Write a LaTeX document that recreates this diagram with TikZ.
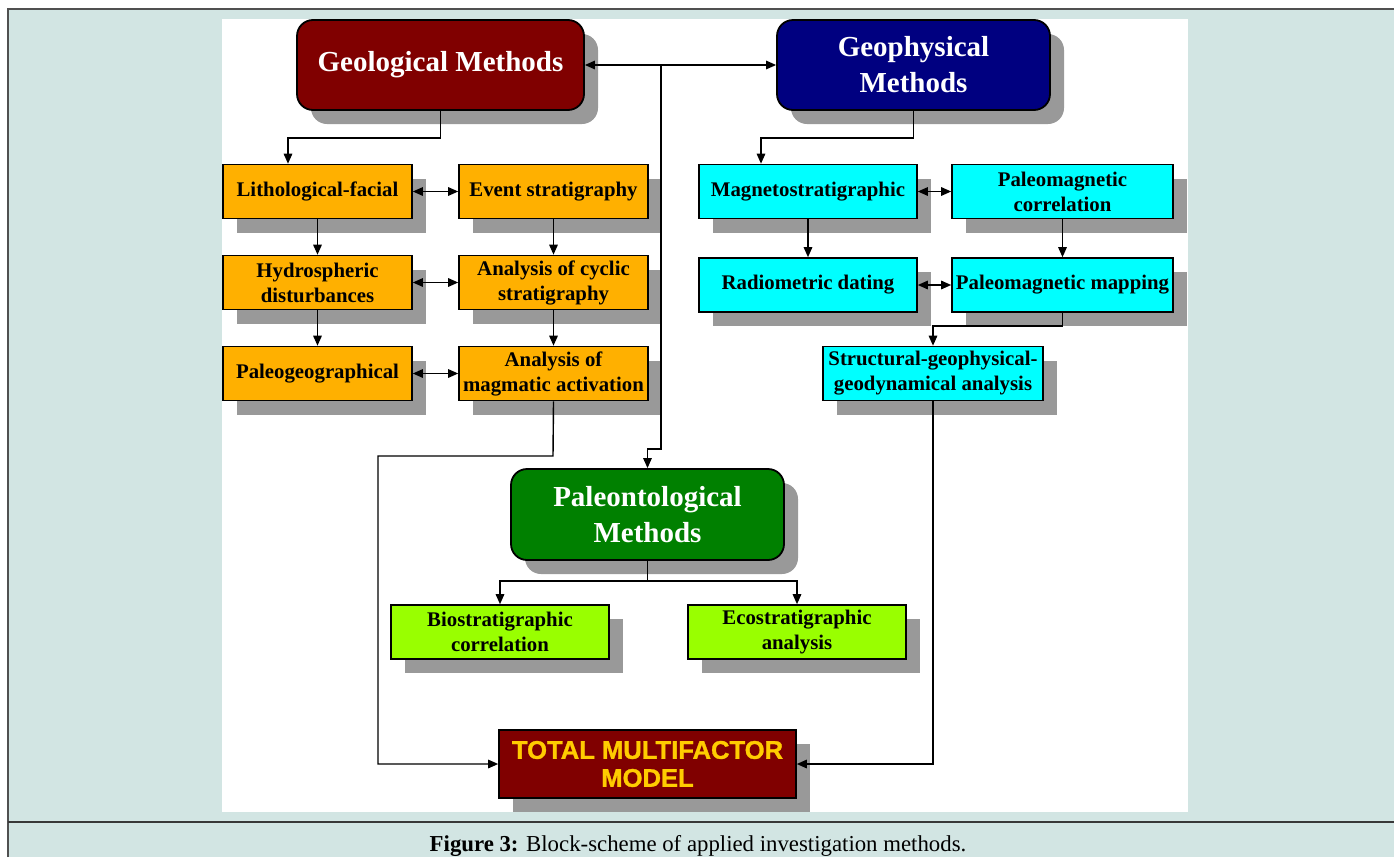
\documentclass[tikz,border=0pt]{standalone}
\usepackage{fontspec}
\setmainfont{Liberation Serif}
\newfontfamily\sansbold[FakeBold=1.2]{Liberation Sans}
\usetikzlibrary{arrows.meta,shadows}
\definecolor{bgblue}{HTML}{D2E5E3}
\definecolor{darkred}{HTML}{800000}
\definecolor{navyb}{HTML}{000080}
\definecolor{greenb}{HTML}{008000}
\definecolor{orangeb}{HTML}{FFB000}
\definecolor{cyanb}{HTML}{00FFFF}
\definecolor{limeb}{HTML}{99FF00}
\definecolor{shadowg}{HTML}{999999}
\definecolor{goldt}{HTML}{FFCC00}
\definecolor{framegray}{HTML}{505050}
\begin{document}
\begin{tikzpicture}[x=1pt,y=-1pt,
  shad/.style={drop shadow={shadow xshift=14pt,shadow yshift=-14pt,fill=shadowg,opacity=1}},
  bigbox/.style={shad, draw=black, line width=1.8pt, rounded corners=16pt, text=white,
    font=\fontsize{29}{36}\selectfont\bfseries, align=center, inner sep=0pt},
  sbox/.style={shad, draw=black, line width=1.6pt, text=black,
    font=\fontsize{20.8}{25}\selectfont\bfseries, align=center, inner sep=0pt, minimum height=54pt},
  conn/.style={line width=1.4pt, -{Triangle[length=10pt,width=8.5pt]}},
  dconn/.style={line width=1.4pt, {Triangle[length=10pt,width=8.5pt]}-{Triangle[length=10pt,width=8.5pt]}}
]
\useasboundingbox (0,0) rectangle (1394,857);
% background
\fill[bgblue] (8,9) rectangle (1394,857);
\fill[white] (222,19) rectangle (1188,812);
\draw[framegray, line width=2pt] (8,857) -- (8,9) -- (1394,9);
\draw[framegray!70!black, line width=1.8pt] (8,822) -- (1394,822);
\node[font=\fontsize{22.8}{26}\selectfont] (cap) at (698,846) {\textbf{Figure 3:} Block-scheme of applied investigation methods.};

% main boxes
\node[bigbox, fill=darkred, minimum width=287pt, minimum height=90pt] (geol) at (440.5,65) {Geological Methods};
\node[bigbox, fill=navyb, minimum width=273pt, minimum height=90pt] (geoph) at (913.5,65) {Geophysical\\Methods};
\node[bigbox, fill=greenb, minimum width=273pt, minimum height=91pt] (paleo) at (647.5,514.5) {Paleontological\\Methods};

% geological column
\node[sbox, fill=orangeb, minimum width=189pt] (litho) at (317.5,191.5) {Lithological-facial};
\node[sbox, fill=orangeb, minimum width=189pt] (event) at (553.5,191.5) {Event stratigraphy};
\node[sbox, fill=orangeb, minimum width=189pt] (hydro) at (317.5,282.5) {Hydrospheric\\disturbances};
\node[sbox, fill=orangeb, minimum width=189pt] (cyclic) at (553.5,282.5) {Analysis of cyclic\\stratigraphy};
\node[sbox, fill=orangeb, minimum width=189pt] (paleogeo) at (317.5,373.5) {Paleogeographical};
\node[sbox, fill=orangeb, minimum width=189pt] (magm) at (553.5,373.5) {Analysis of\\magmatic activation};

% geophysical column
\node[sbox, fill=cyanb, minimum width=218pt] (magneto) at (808,191.5) {Magnetostratigraphic};
\node[sbox, fill=cyanb, minimum width=221pt] (pcorr) at (1062.5,191.5) {Paleomagnetic\\correlation};
\node[sbox, fill=cyanb, minimum width=218pt] (radio) at (808,285) {Radiometric dating};
\node[sbox, fill=cyanb, minimum width=221pt] (pmap) at (1062.5,285) {Paleomagnetic mapping};
\node[sbox, fill=cyanb, minimum width=220pt] (struct) at (933,373.5) {Structural-geophysical-\\geodynamical analysis};

% paleontological
\node[sbox, fill=limeb, minimum width=218pt] (bio) at (500,632) {Biostratigraphic\\correlation};
\node[sbox, fill=limeb, minimum width=218pt] (eco) at (797,632) {Ecostratigraphic\\analysis};

% total
\node[shad, draw=black, line width=1.6pt, fill=darkred, text=goldt, align=center, inner sep=0pt,
  minimum width=297pt, minimum height=68pt, font=\sansbold\bfseries\fontsize{25.6}{28}\selectfont] (total) at (647.5,764) {TOTAL MULTIFACTOR\\MODEL};

% connectors
\coordinate (j1) at (661,65);
\coordinate (j2) at (661,449);
\draw[dconn] (geol.east) -- (geoph.west);
\draw[conn] (j1) -- (j2) -| (paleo.north);
\draw[conn] (geol.south) -- ++(0,27) -| ([xshift=-29.5pt]litho.north);
\draw[conn] (geoph.south) -- ++(0,27) -| ([xshift=-47pt]magneto.north);

\draw[dconn] (litho.east) -- (event.west);
\draw[dconn] (hydro.east) -- (cyclic.west);
\draw[dconn] (paleogeo.east) -- (magm.west);
\draw[conn] (litho.south) -- (hydro.north);
\draw[conn] (hydro.south) -- (paleogeo.north);
\draw[conn] (event.south) -- (cyclic.north);
\draw[conn] (cyclic.south) -- (magm.north);

\draw[dconn] (magneto.east) -- (pcorr.west);
\draw[dconn] (radio.east) -- (pmap.west);
\draw[conn] (magneto.south) -- (radio.north);
\draw[conn] (pcorr.south) -- (pmap.north);
\draw[conn] (pmap.south) -- ++(0,13) -| (struct.north);

\draw[conn] (paleo.south) -- ++(0,20) -| (bio.north);
\draw[conn] (paleo.south) -- ++(0,20) -| (eco.north);

\coordinate (m1) at (553,456);
\coordinate (m2) at (378,456);
\draw[conn] (magm.south) -- (m1) -- (m2) |- (total.west);
\draw[conn] (struct.south) |- (total.east);
\end{tikzpicture}
\end{document}
